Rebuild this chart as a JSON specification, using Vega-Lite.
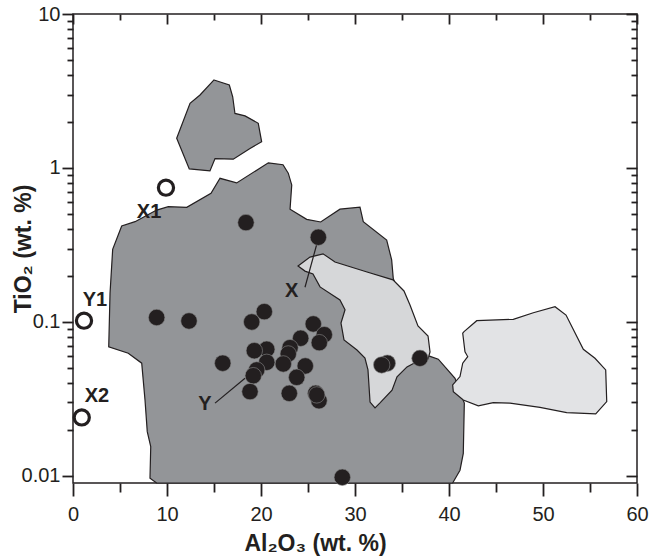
{
  "$schema": "https://vega.github.io/schema/vega-lite/v6.json",
  "width": 564,
  "height": 469,
  "autosize": {"type": "none"},
  "padding": {"left": 73, "top": 14, "right": 17, "bottom": 77},
  "background": "white",
  "config": {
    "view": {"stroke": "#231f20", "strokeWidth": 1.5},
    "font": "Liberation Sans",
    "axis": {"grid": false, "domain": false, "tickColor": "#231f20", "tickWidth": 1.8, "labelColor": "#231f20", "titleColor": "#231f20", "labelFont": "Liberation Sans", "titleFont": "Liberation Sans"}
  },
  "datasets": {
    "poly": [
      {"poly": "m", "i": 0, "al": 8.9, "ti": 0.009},
      {"poly": "m", "i": 1, "al": 8.19, "ti": 0.00966},
      {"poly": "m", "i": 2, "al": 8.27, "ti": 0.0155},
      {"poly": "m", "i": 3, "al": 7.9, "ti": 0.0194},
      {"poly": "m", "i": 4, "al": 7.66, "ti": 0.0311},
      {"poly": "m", "i": 5, "al": 7.31, "ti": 0.054},
      {"poly": "m", "i": 6, "al": 5.88, "ti": 0.0627},
      {"poly": "m", "i": 7, "al": 3.8, "ti": 0.0689},
      {"poly": "m", "i": 8, "al": 3.94, "ti": 0.1535},
      {"poly": "m", "i": 9, "al": 4.22, "ti": 0.296},
      {"poly": "m", "i": 10, "al": 5.18, "ti": 0.42},
      {"poly": "m", "i": 11, "al": 6.6, "ti": 0.448},
      {"poly": "m", "i": 12, "al": 8.9, "ti": 0.533},
      {"poly": "m", "i": 13, "al": 10.14, "ti": 0.561},
      {"poly": "m", "i": 14, "al": 12.1, "ti": 0.555},
      {"poly": "m", "i": 15, "al": 14.68, "ti": 0.686},
      {"poly": "m", "i": 16, "al": 15.64, "ti": 0.857},
      {"poly": "m", "i": 17, "al": 17.41, "ti": 0.8},
      {"poly": "m", "i": 18, "al": 20.78, "ti": 1.08},
      {"poly": "m", "i": 19, "al": 22.34, "ti": 1.05},
      {"poly": "m", "i": 20, "al": 22.9, "ti": 0.925},
      {"poly": "m", "i": 21, "al": 23.27, "ti": 0.776},
      {"poly": "m", "i": 22, "al": 23.09, "ti": 0.54},
      {"poly": "m", "i": 23, "al": 24.86, "ti": 0.464},
      {"poly": "m", "i": 24, "al": 26.35, "ti": 0.446},
      {"poly": "m", "i": 25, "al": 28.4, "ti": 0.54},
      {"poly": "m", "i": 26, "al": 30.53, "ti": 0.556},
      {"poly": "m", "i": 27, "al": 30.88, "ti": 0.448},
      {"poly": "m", "i": 28, "al": 33.37, "ti": 0.34},
      {"poly": "m", "i": 29, "al": 33.9, "ti": 0.253},
      {"poly": "m", "i": 30, "al": 34.07, "ti": 0.192},
      {"poly": "m", "i": 31, "al": 34.9, "ti": 0.139},
      {"poly": "m", "i": 32, "al": 36.91, "ti": 0.0824},
      {"poly": "m", "i": 33, "al": 37.55, "ti": 0.0611},
      {"poly": "m", "i": 34, "al": 38.86, "ti": 0.0573},
      {"poly": "m", "i": 35, "al": 40.64, "ti": 0.0431},
      {"poly": "m", "i": 36, "al": 41.63, "ti": 0.0297},
      {"poly": "m", "i": 37, "al": 41.52, "ti": 0.014},
      {"poly": "m", "i": 38, "al": 41.17, "ti": 0.0109},
      {"poly": "m", "i": 39, "al": 40.39, "ti": 0.009},
      {"poly": "s", "i": 0, "al": 15.0, "ti": 3.73},
      {"poly": "s", "i": 1, "al": 16.63, "ti": 3.46},
      {"poly": "s", "i": 2, "al": 16.99, "ti": 2.9},
      {"poly": "s", "i": 3, "al": 17.23, "ti": 2.26},
      {"poly": "s", "i": 4, "al": 18.3, "ti": 2.18},
      {"poly": "s", "i": 5, "al": 19.71, "ti": 1.95},
      {"poly": "s", "i": 6, "al": 20.07, "ti": 1.48},
      {"poly": "s", "i": 7, "al": 18.83, "ti": 1.34},
      {"poly": "s", "i": 8, "al": 17.05, "ti": 1.14},
      {"poly": "s", "i": 9, "al": 15.11, "ti": 1.15},
      {"poly": "s", "i": 10, "al": 14.57, "ti": 0.957},
      {"poly": "s", "i": 11, "al": 12.37, "ti": 0.987},
      {"poly": "s", "i": 12, "al": 11.03, "ti": 1.56},
      {"poly": "s", "i": 13, "al": 12.45, "ti": 2.63},
      {"poly": "s", "i": 14, "al": 13.51, "ti": 2.98}
    ],
    "lightx": [
      {"i": 0, "al": 23.94, "ti": 0.231},
      {"i": 1, "al": 25.21, "ti": 0.264},
      {"i": 2, "al": 26.6, "ti": 0.277},
      {"i": 3, "al": 27.87, "ti": 0.245},
      {"i": 4, "al": 31.28, "ti": 0.211},
      {"i": 5, "al": 34.04, "ti": 0.1876},
      {"i": 6, "al": 35.21, "ti": 0.159},
      {"i": 7, "al": 35.85, "ti": 0.129},
      {"i": 8, "al": 36.7, "ti": 0.0942},
      {"i": 9, "al": 37.77, "ti": 0.0811},
      {"i": 10, "al": 37.98, "ti": 0.0638},
      {"i": 11, "al": 37.77, "ti": 0.0576},
      {"i": 12, "al": 36.91, "ti": 0.0566},
      {"i": 13, "al": 35.53, "ti": 0.0511},
      {"i": 14, "al": 34.47, "ti": 0.044},
      {"i": 15, "al": 33.94, "ti": 0.0361},
      {"i": 16, "al": 32.66, "ti": 0.0298},
      {"i": 17, "al": 32.13, "ti": 0.0277},
      {"i": 18, "al": 31.6, "ti": 0.0302},
      {"i": 19, "al": 31.38, "ti": 0.0488},
      {"i": 20, "al": 31.06, "ti": 0.0583},
      {"i": 21, "al": 30.21, "ti": 0.0658},
      {"i": 22, "al": 28.83, "ti": 0.0764},
      {"i": 23, "al": 28.51, "ti": 0.0985},
      {"i": 24, "al": 28.94, "ti": 0.12},
      {"i": 25, "al": 28.4, "ti": 0.139},
      {"i": 26, "al": 26.28, "ti": 0.169},
      {"i": 27, "al": 25.53, "ti": 0.205},
      {"i": 28, "al": 24.68, "ti": 0.214}
    ],
    "lightr": [
      {"i": 0, "al": 41.6, "ti": 0.0865},
      {"i": 1, "al": 42.95, "ti": 0.1019},
      {"i": 2, "al": 46.84, "ti": 0.1041},
      {"i": 3, "al": 48.97, "ti": 0.1148},
      {"i": 4, "al": 51.28, "ti": 0.1256},
      {"i": 5, "al": 52.45, "ti": 0.1109},
      {"i": 6, "al": 54.29, "ti": 0.0665},
      {"i": 7, "al": 55.53, "ti": 0.0581},
      {"i": 8, "al": 56.67, "ti": 0.0488},
      {"i": 9, "al": 56.78, "ti": 0.0304},
      {"i": 10, "al": 55.61, "ti": 0.0253},
      {"i": 11, "al": 52.52, "ti": 0.0258},
      {"i": 12, "al": 49.68, "ti": 0.0279},
      {"i": 13, "al": 46.49, "ti": 0.0297},
      {"i": 14, "al": 44.71, "ti": 0.0299},
      {"i": 15, "al": 43.12, "ti": 0.0285},
      {"i": 16, "al": 41.52, "ti": 0.0311},
      {"i": 17, "al": 40.46, "ti": 0.0352},
      {"i": 18, "al": 40.39, "ti": 0.039},
      {"i": 19, "al": 41.17, "ti": 0.0442},
      {"i": 20, "al": 41.46, "ti": 0.054},
      {"i": 21, "al": 41.99, "ti": 0.0596},
      {"i": 22, "al": 41.7, "ti": 0.0641},
      {"i": 23, "al": 41.46, "ti": 0.0845}
    ],
    "pts": [
      {"al": 18.4, "ti": 0.442},
      {"al": 26.1, "ti": 0.355},
      {"al": 8.9, "ti": 0.107},
      {"al": 12.34, "ti": 0.1015},
      {"al": 20.35, "ti": 0.1167},
      {"al": 19.01, "ti": 0.1},
      {"al": 25.56, "ti": 0.0971},
      {"al": 26.73, "ti": 0.0827},
      {"al": 26.2, "ti": 0.0734},
      {"al": 24.22, "ti": 0.0784},
      {"al": 23.09, "ti": 0.0681},
      {"al": 22.9, "ti": 0.062},
      {"al": 22.37, "ti": 0.0534},
      {"al": 20.61, "ti": 0.0665},
      {"al": 19.29, "ti": 0.0651},
      {"al": 20.61, "ti": 0.0547},
      {"al": 19.54, "ti": 0.0488},
      {"al": 19.18, "ti": 0.0448},
      {"al": 18.83, "ti": 0.0353},
      {"al": 15.93, "ti": 0.054},
      {"al": 24.71, "ti": 0.0518},
      {"al": 23.8, "ti": 0.0437},
      {"al": 23.01, "ti": 0.0344},
      {"al": 26.17, "ti": 0.0308},
      {"al": 25.82, "ti": 0.0344},
      {"al": 25.93, "ti": 0.0336},
      {"al": 33.44, "ti": 0.054},
      {"al": 32.84, "ti": 0.0526},
      {"al": 36.91, "ti": 0.0581},
      {"al": 28.65, "ti": 0.0098}
    ],
    "open": [
      {"name": "X1", "al": 9.89, "ti": 0.745},
      {"name": "Y1", "al": 1.17, "ti": 0.102},
      {"name": "X2", "al": 0.93, "ti": 0.024}
    ],
    "labels": [
      {"label": "X1", "al": 8.09, "ti": 0.518},
      {"label": "Y1", "al": 2.34, "ti": 0.139},
      {"label": "X2", "al": 2.55, "ti": 0.0331},
      {"label": "X", "al": 23.27, "ti": 0.16},
      {"label": "Y", "al": 14.04, "ti": 0.0294}
    ],
    "leaders": [
      {"al": 25.91, "ti": 0.316, "al2": 24.68, "ti2": 0.168},
      {"al": 18.3, "ti": 0.0431, "al2": 15.11, "ti2": 0.0297}
    ]
  },
  "resolve": {"axis": {"x": "independent", "y": "independent"}},
  "layer": [
    {
      "data": {"name": "poly"},
      "mark": {"type": "line", "interpolate": "linear-closed", "fill": "#939598", "stroke": "#231f20", "strokeWidth": 1.2},
      "encoding": {
        "x": {"field": "al", "type": "quantitative", "scale": {"domain": [0, 60], "nice": false, "zero": false}, "axis": null},
        "y": {"field": "ti", "type": "quantitative", "scale": {"type": "log", "domain": [0.009, 10], "nice": false}, "axis": null},
        "detail": {"field": "poly"},
        "order": {"field": "i", "type": "quantitative"}
      }
    },
    {
      "data": {"name": "lightx"},
      "mark": {"type": "line", "interpolate": "linear-closed", "fill": "#d6d7d9", "stroke": "#231f20", "strokeWidth": 1.2},
      "encoding": {
        "x": {"field": "al", "type": "quantitative", "scale": {"domain": [0, 60], "nice": false, "zero": false}, "axis": null},
        "y": {"field": "ti", "type": "quantitative", "scale": {"type": "log", "domain": [0.009, 10], "nice": false}, "axis": null},
        "order": {"field": "i", "type": "quantitative"}
      }
    },
    {
      "data": {"name": "lightr"},
      "mark": {"type": "line", "interpolate": "linear-closed", "fill": "#e2e3e5", "stroke": "#231f20", "strokeWidth": 1.2},
      "encoding": {
        "x": {"field": "al", "type": "quantitative", "scale": {"domain": [0, 60], "nice": false, "zero": false}, "axis": null},
        "y": {"field": "ti", "type": "quantitative", "scale": {"type": "log", "domain": [0.009, 10], "nice": false}, "axis": null},
        "order": {"field": "i", "type": "quantitative"}
      }
    },
    {
      "data": {"name": "leaders"},
      "mark": {"type": "rule", "stroke": "#231f20", "strokeWidth": 1.2},
      "encoding": {
        "x": {"field": "al", "type": "quantitative", "scale": {"domain": [0, 60], "nice": false, "zero": false}, "axis": null},
        "y": {"field": "ti", "type": "quantitative", "scale": {"type": "log", "domain": [0.009, 10], "nice": false}, "axis": null},
        "x2": {"field": "al2"},
        "y2": {"field": "ti2"}
      }
    },
    {
      "data": {"name": "pts"},
      "mark": {"type": "point", "shape": "circle", "filled": true, "fill": "#231f20", "stroke": "#8a8a8a", "strokeWidth": 0.6, "size": 270, "opacity": 1},
      "encoding": {
        "x": {"field": "al", "type": "quantitative", "scale": {"domain": [0, 60], "nice": false, "zero": false}, "axis": null},
        "y": {"field": "ti", "type": "quantitative", "scale": {"type": "log", "domain": [0.009, 10], "nice": false}, "axis": null}
      }
    },
    {
      "data": {"name": "open"},
      "mark": {"type": "point", "shape": "circle", "filled": false, "stroke": "#231f20", "strokeWidth": 3.2, "size": 230, "opacity": 1},
      "encoding": {
        "x": {"field": "al", "type": "quantitative", "scale": {"domain": [0, 60], "nice": false, "zero": false}, "axis": null},
        "y": {"field": "ti", "type": "quantitative", "scale": {"type": "log", "domain": [0.009, 10], "nice": false}, "axis": null}
      }
    },
    {
      "data": {"name": "labels"},
      "mark": {"type": "text", "font": "Liberation Sans", "fontWeight": "bold", "fontSize": 20, "fill": "#231f20", "align": "center", "baseline": "middle"},
      "encoding": {
        "x": {"field": "al", "type": "quantitative", "scale": {"domain": [0, 60], "nice": false, "zero": false}, "axis": null},
        "y": {"field": "ti", "type": "quantitative", "scale": {"type": "log", "domain": [0.009, 10], "nice": false}, "axis": null},
        "text": {"field": "label"}
      }
    },
    {
      "data": {"name": "open"},
      "mark": {"type": "point", "opacity": 0},
      "encoding": {
        "x": {"field": "al", "type": "quantitative", "scale": {"domain": [0, 60], "nice": false, "zero": false},
          "axis": {"orient": "bottom", "values": [0, 10, 20, 30, 40, 50, 60], "tickSize": 13, "labelFontSize": 20, "labelPadding": 8, "labelFlush": false, "labelOverlap": false,
            "title": "Al₂O₃ (wt. %)", "titleFontSize": 23, "titleFontWeight": "bold", "titlePadding": 8, "titleX": 242, "titleAlign": "center"}},
        "y": {"field": "ti", "type": "quantitative", "scale": {"type": "log", "domain": [0.009, 10], "nice": false},
          "axis": {"orient": "left", "values": [0.01, 0.1, 1, 10], "format": "~g", "tickSize": 11, "labelFontSize": 20, "labelPadding": 2, "labelFlush": false, "labelOverlap": false,
            "title": "TiO₂ (wt. %)", "titleFontSize": 23, "titleFontWeight": "bold", "titlePadding": -14}}
      }
    },
    {
      "data": {"name": "open"},
      "mark": {"type": "point", "opacity": 0},
      "encoding": {
        "x": {"field": "al", "type": "quantitative", "scale": {"domain": [0, 60], "nice": false, "zero": false},
          "axis": {"orient": "bottom", "values": [5, 15, 25, 35, 45, 55], "tickSize": 9, "labels": false, "title": null}},
        "y": {"field": "ti", "type": "quantitative", "scale": {"type": "log", "domain": [0.009, 10], "nice": false},
          "axis": {"orient": "left", "values": [0.02, 0.03, 0.04, 0.05, 0.06, 0.07, 0.08, 0.09, 0.2, 0.3, 0.4, 0.5, 0.6, 0.7, 0.8, 0.9, 2, 3, 4, 5, 6, 7, 8, 9], "tickSize": 6, "labels": false, "title": null}}
      }
    },
    {
      "data": {"name": "open"},
      "mark": {"type": "point", "opacity": 0},
      "encoding": {
        "x": {"field": "al", "type": "quantitative", "scale": {"domain": [0, 60], "nice": false, "zero": false},
          "axis": {"orient": "top", "values": [0, 10, 20, 30, 40, 50, 60], "tickSize": -10, "labels": false, "title": null}},
        "y": {"field": "ti", "type": "quantitative", "scale": {"type": "log", "domain": [0.009, 10], "nice": false},
          "axis": {"orient": "right", "values": [0.01, 0.1, 1, 10], "tickSize": -11, "labels": false, "title": null}}
      }
    },
    {
      "data": {"name": "open"},
      "mark": {"type": "point", "opacity": 0},
      "encoding": {
        "x": {"field": "al", "type": "quantitative", "scale": {"domain": [0, 60], "nice": false, "zero": false},
          "axis": {"orient": "top", "values": [5, 15, 25, 35, 45, 55], "tickSize": -6, "labels": false, "title": null}},
        "y": {"field": "ti", "type": "quantitative", "scale": {"type": "log", "domain": [0.009, 10], "nice": false},
          "axis": {"orient": "right", "values": [0.02, 0.03, 0.04, 0.05, 0.06, 0.07, 0.08, 0.09, 0.2, 0.3, 0.4, 0.5, 0.6, 0.7, 0.8, 0.9, 2, 3, 4, 5, 6, 7, 8, 9], "tickSize": -6, "labels": false, "title": null}}
      }
    }
  ]
}
